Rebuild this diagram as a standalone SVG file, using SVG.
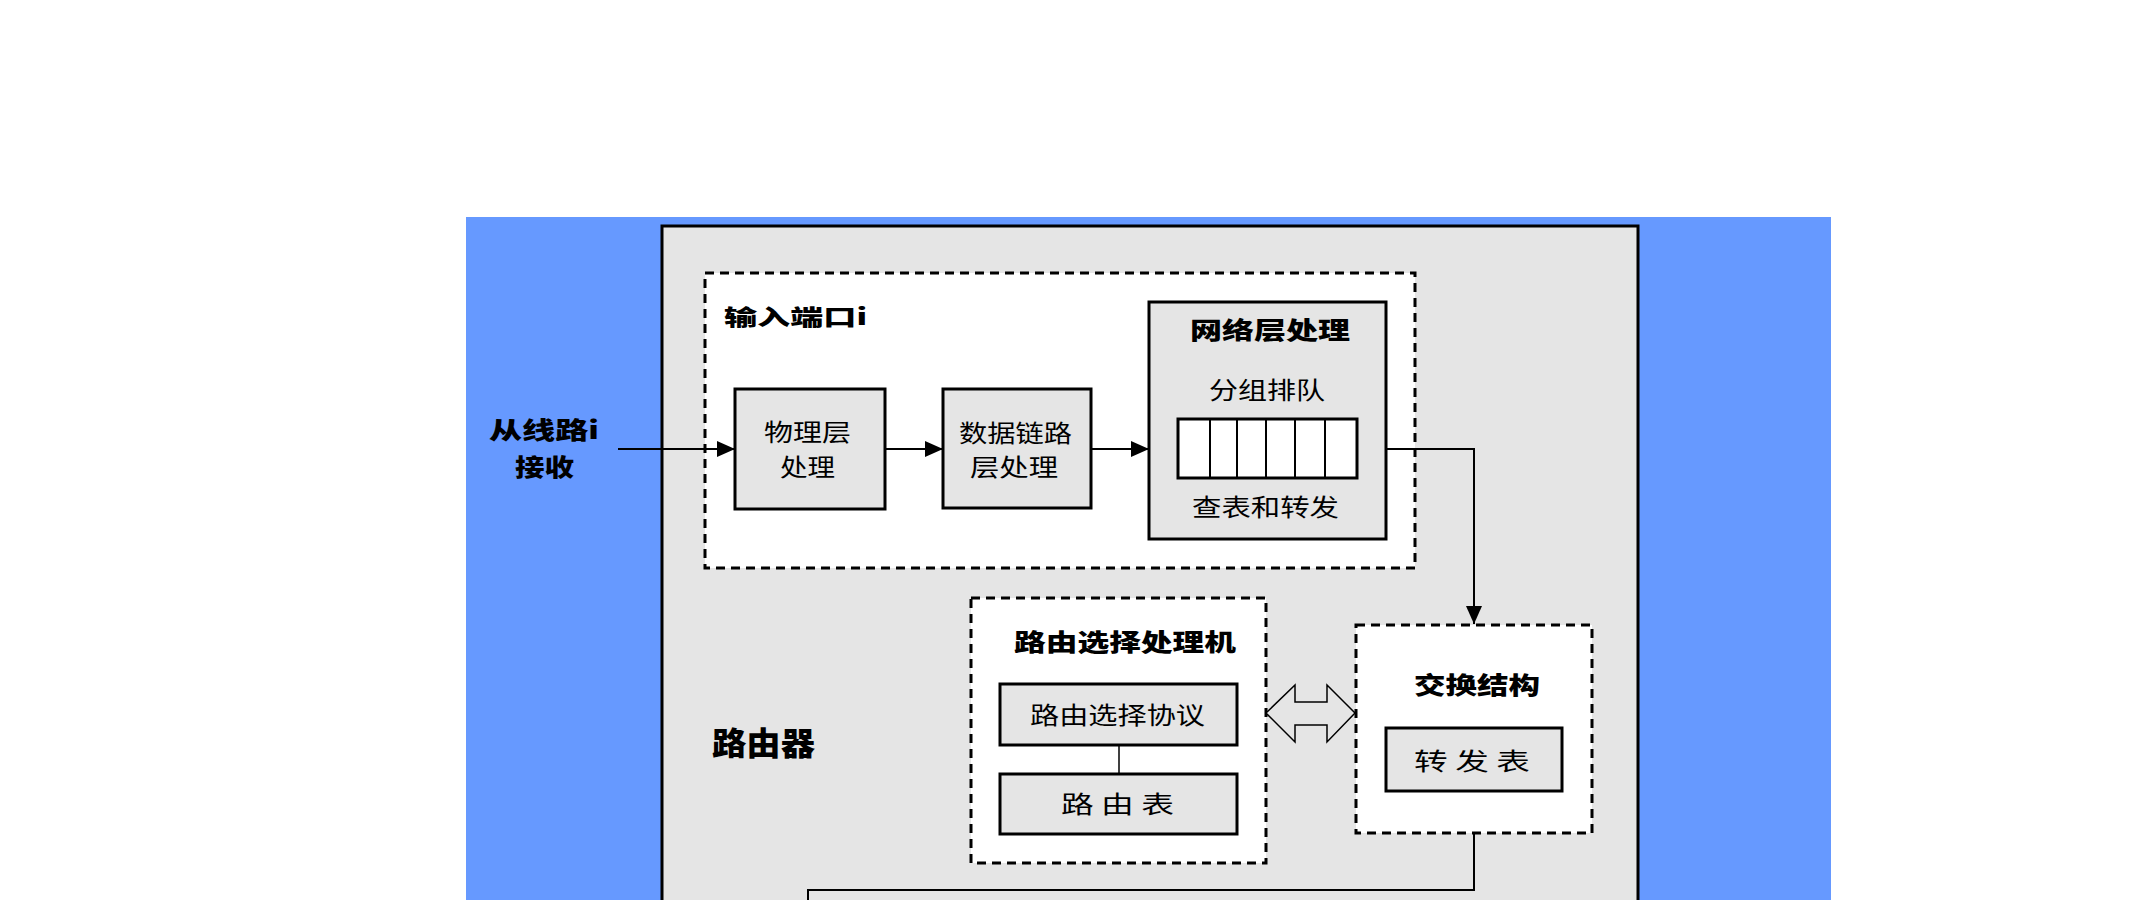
<svg xmlns="http://www.w3.org/2000/svg" width="2149" height="900" viewBox="0 0 2149 900">
<style>
.box{fill:#E5E5E5;stroke:#000;stroke-width:3}
.dash{fill:#fff;stroke:#000;stroke-width:3;stroke-dasharray:9 6}
.conn{fill:none;stroke:#000;stroke-width:2}
text{font-family:"Noto Sans CJK SC","Liberation Sans",sans-serif;fill:#000;text-anchor:middle;dominant-baseline:central}
.b{font-weight:900;font-size:24px}
.r{font-weight:400;font-size:24px}
</style>
<defs>
<marker id="ah" markerUnits="userSpaceOnUse" markerWidth="20" markerHeight="18" refX="18" refY="8" orient="auto">
<path d="M0,0 L18,8 L0,16 z" fill="#000"/>
</marker>
</defs>
<rect x="0" y="0" width="2149" height="900" fill="#fff"/>
<rect id="bg" x="466" y="217" width="1365" height="690" fill="#6699FF"/>
<g id="router">
<rect x="662" y="226" width="976" height="690" fill="#E5E5E5" stroke="#000" stroke-width="3"/>
<text class="b" x="763.5" y="741" style="font-size:32px" textLength="103" lengthAdjust="spacingAndGlyphs">路由器</text>
</g>
<g id="source">
<text class="b" x="544" y="428" textLength="110" lengthAdjust="spacingAndGlyphs">从线路i</text>
<text class="b" x="544.5" y="465" textLength="59" lengthAdjust="spacingAndGlyphs">接收</text>
</g>
<g id="input-port">
<rect class="dash" x="705" y="273" width="710" height="295"/>
<text class="b" x="795.5" y="315" style="font-size:22px" textLength="143" lengthAdjust="spacingAndGlyphs">输入端口i</text>
</g>
<g id="physical">
<rect class="box" x="735" y="389" width="150" height="120"/>
<text class="r" x="807.5" y="430" textLength="87" lengthAdjust="spacingAndGlyphs">物理层</text>
<text class="r" x="807.5" y="465" textLength="55" lengthAdjust="spacingAndGlyphs">处理</text>
</g>
<g id="datalink">
<rect class="box" x="943" y="389" width="148" height="119"/>
<text class="r" x="1015.5" y="431" textLength="113" lengthAdjust="spacingAndGlyphs">数据链路</text>
<text class="r" x="1014" y="465" textLength="88" lengthAdjust="spacingAndGlyphs">层处理</text>
</g>
<g id="network">
<rect class="box" x="1149" y="302" width="237" height="237"/>
<text class="b" x="1270" y="328" textLength="160" lengthAdjust="spacingAndGlyphs">网络层处理</text>
<text class="r" x="1267" y="388" textLength="116" lengthAdjust="spacingAndGlyphs">分组排队</text>
<rect x="1178" y="419" width="179" height="59" fill="#fff" stroke="#000" stroke-width="3"/>
<path d="M1210,419V478M1237,419V478M1266,419V478M1295,419V478M1325,419V478" stroke="#000" stroke-width="2" fill="none"/>
<text class="r" x="1265.5" y="505" textLength="147" lengthAdjust="spacingAndGlyphs">查表和转发</text>
</g>
<g id="routing-processor">
<rect class="dash" x="971" y="598" width="295" height="265"/>
<text class="b" x="1125" y="640" textLength="222" lengthAdjust="spacingAndGlyphs">路由选择处理机</text>
</g>
<g id="routing-protocol">
<rect class="box" x="1000" y="684" width="237" height="61"/>
<text class="r" x="1117.5" y="713" textLength="175" lengthAdjust="spacingAndGlyphs">路由选择协议</text>
</g>
<g id="routing-table">
<rect class="box" x="1000" y="774" width="237" height="60"/>
<text class="r" x="1117.5" y="802" textLength="113" lengthAdjust="spacingAndGlyphs">路 由 表</text>
</g>
<g id="switch-fabric">
<rect class="dash" x="1356" y="625" width="236" height="208"/>
<text class="b" x="1477" y="683" textLength="126" lengthAdjust="spacingAndGlyphs">交换结构</text>
</g>
<g id="forwarding-table">
<rect class="box" x="1386" y="728" width="176" height="63"/>
<text class="r" x="1472" y="759" textLength="116" lengthAdjust="spacingAndGlyphs">转 发 表</text>
</g>
<g id="connectors">
<line class="conn" x1="618" y1="449" x2="735" y2="449" marker-end="url(#ah)"/>
<line class="conn" x1="885" y1="449" x2="943" y2="449" marker-end="url(#ah)"/>
<line class="conn" x1="1091" y1="449" x2="1149" y2="449" marker-end="url(#ah)"/>
<polyline class="conn" points="1386,449 1474,449 1474,624" marker-end="url(#ah)"/>
<line x1="1119" y1="745" x2="1119" y2="774" stroke="#000" stroke-width="1.5"/>
<polyline class="conn" points="1474,833 1474,890 808,890 808,905" stroke-width="3"/>
<polygon points="1266,713 1295,685 1295,702 1327,702 1327,685 1355,713 1327,742 1327,725 1295,725 1295,742" fill="#E5E5E5" stroke="#000" stroke-width="1.5"/>
</g>
</svg>
